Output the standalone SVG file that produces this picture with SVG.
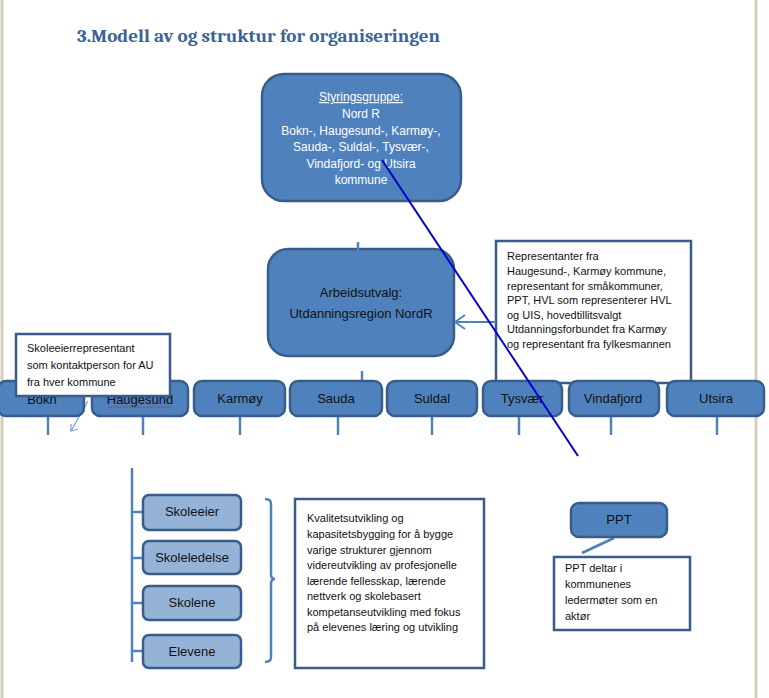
<svg xmlns="http://www.w3.org/2000/svg" width="769" height="698" viewBox="0 0 769 698">
<defs>
<style>
.t{font-family:"Liberation Sans",Arial,sans-serif;}
.bx{fill:#4F81BD;stroke:#385D8A;stroke-width:2.5;}
.lb{fill:#95B3D7;stroke:#385D8A;stroke-width:2.5;}
.wb{fill:#ffffff;stroke:#385D8A;stroke-width:2.5;}
.dk{fill:#111111;font-size:13px;text-anchor:middle;}
.sm{fill:#111111;font-size:11px;}
.wt{fill:#ffffff;font-size:12px;text-anchor:middle;}
.cn{stroke:#4F81BD;stroke-width:2.5;fill:none;}
</style>
</defs>
<rect x="0" y="0" width="769" height="698" fill="#ffffff"/>
<line x1="2" y1="0" x2="2" y2="698" stroke="#D3CEBD" stroke-width="3"/>
<line x1="756" y1="0" x2="756" y2="698" stroke="#D3CEBD" stroke-width="3"/>
<text x="77" y="42" font-family="Cambria,'Liberation Serif',serif" font-weight="bold" font-size="18" fill="#3A6399" textLength="363" lengthAdjust="spacingAndGlyphs">3.Modell av og struktur for organiseringen</text>

<g id="styringsgruppe">
<rect class="bx" x="262" y="74" width="199" height="127" rx="22"/>
<text class="t wt" x="361" y="101" text-decoration="underline" font-size="13">Styringsgruppe:</text>
<text class="t wt" x="361" y="118" font-size="13">Nord R</text>
<text class="t wt" x="361" y="135" font-size="11.5">Bokn-, Haugesund-, Karmøy-,</text>
<text class="t wt" x="361" y="151" font-size="11.5">Sauda-, Suldal-, Tysvær-,</text>
<text class="t wt" x="361" y="168" font-size="11.5">Vindafjord- og Utsira</text>
<text class="t wt" x="361" y="184" font-size="11.5">kommune</text>
</g>

<g id="arbeidsutvalg">
<rect class="bx" x="268" y="249" width="186" height="107" rx="20"/>
<text class="t dk" x="361" y="297" font-size="12.5">Arbeidsutvalg:</text>
<text class="t dk" x="361" y="318" font-size="12.5">Utdanningsregion NordR</text>
</g>

<g id="representanter">
<rect class="wb" x="496" y="241" width="195" height="142"/>
<text class="t sm" x="507" y="260">Representanter fra</text>
<text class="t sm" x="507" y="275">Haugesund-, Karmøy kommune,</text>
<text class="t sm" x="507" y="290">representant for småkommuner,</text>
<text class="t sm" x="507" y="304">PPT, HVL som representerer HVL</text>
<text class="t sm" x="507" y="319">og UIS, hovedtillitsvalgt</text>
<text class="t sm" x="507" y="333">Utdanningsforbundet fra Karmøy</text>
<text class="t sm" x="507" y="348">og representant fra fylkesmannen</text>
</g>

<g id="connectors">
<line class="cn" x1="358" y1="242" x2="358" y2="263"/>
<line class="cn" x1="362" y1="371" x2="362" y2="384"/>
<line x1="496" y1="322" x2="455" y2="322" stroke="#4F81BD" stroke-width="2"/>
<polyline points="465,315 455,322 465,329" fill="none" stroke="#4F81BD" stroke-width="1.8"/>
<line x1="88" y1="401" x2="71" y2="431" stroke="#7B9FD0" stroke-width="1.2"/>
<polyline points="71,424 71,431 78,429" fill="none" stroke="#7B9FD0" stroke-width="1.2"/>
<line class="cn" x1="48" y1="417" x2="48" y2="435"/>
<line class="cn" x1="143" y1="417" x2="143" y2="435"/>
<line class="cn" x1="240" y1="417" x2="240" y2="435"/>
<line class="cn" x1="338" y1="417" x2="338" y2="435"/>
<line class="cn" x1="432" y1="417" x2="432" y2="435"/>
<line class="cn" x1="519" y1="417" x2="519" y2="435"/>
<line class="cn" x1="611" y1="417" x2="611" y2="435"/>
<line class="cn" x1="717" y1="417" x2="717" y2="435"/>
<line class="cn" x1="132" y1="468" x2="132" y2="662" stroke-width="2"/>
<line class="cn" x1="132" y1="512" x2="144" y2="512" stroke-width="2"/>
<line class="cn" x1="132" y1="558" x2="144" y2="558" stroke-width="2"/>
<line class="cn" x1="132" y1="603" x2="144" y2="603" stroke-width="2"/>
<line class="cn" x1="132" y1="651" x2="144" y2="651" stroke-width="2"/>
<path class="cn" stroke-width="1.5" d="M265,499 Q271,499 271,504 L271,574 Q271,579 275,579 Q271,579 271,584 L271,657 Q271,662 265,662"/>
<line x1="614" y1="538" x2="582" y2="553" stroke="#4F81BD" stroke-width="3"/>
</g>

<g id="bokn"><rect class="bx" x="-2" y="381" width="86" height="35" rx="8"/><text class="t dk" x="42" y="404">Bokn</text></g>
<g id="haugesund"><rect class="bx" x="92" y="381" width="96" height="35" rx="8"/><text class="t dk" x="140" y="404">Haugesund</text>
<path d="M108,408 l2,-1.5 l2,1.5 l2,-1.5 l2,1.5 l2,-1.5 l2,1.5 l2,-1.5 l2,1.5 l2,-1.5 l2,1.5 l2,-1.5 l2,1.5 l2,-1.5 l2,1.5 l2,-1.5 l2,1.5 l2,-1.5 l2,1.5 l2,-1.5 l2,1.5 l2,-1.5 l2,1.5 l2,-1.5 l2,1.5 l2,-1.5 l2,1.5 l2,-1.5 l2,1.5 l2,-1.5 l2,1.5 l2,-1.5 l2,1.5" fill="none" stroke="#D03030" stroke-width="0.7"/></g>
<g id="karmoy"><rect class="bx" x="194" y="381" width="91" height="35" rx="8"/><text class="t dk" x="240" y="403">Karmøy</text></g>
<g id="sauda"><rect class="bx" x="290" y="381" width="92" height="35" rx="8"/><text class="t dk" x="336" y="403">Sauda</text></g>
<g id="suldal"><rect class="bx" x="387" y="381" width="90" height="35" rx="8"/><text class="t dk" x="432" y="403">Suldal</text></g>
<g id="tysvaer"><rect class="bx" x="483" y="381" width="79" height="35" rx="8"/><text class="t dk" x="522" y="403">Tysvær</text></g>
<g id="vindafjord"><rect class="bx" x="569" y="381" width="90" height="35" rx="8"/><text class="t dk" x="613" y="403">Vindafjord</text></g>
<g id="utsira"><rect class="bx" x="667" y="381" width="97" height="35" rx="8"/><text class="t dk" x="716" y="403">Utsira</text></g>

<g id="skoleeierrepresentant">
<rect class="wb" x="16" y="334" width="154" height="62" stroke-width="2"/>
<text class="t sm" x="27" y="352">Skoleeierrepresentant</text>
<text class="t sm" x="27" y="369">som kontaktperson for AU</text>
<text class="t sm" x="27" y="386">fra hver kommune</text>
</g>

<g id="diagonal"><line x1="382" y1="160" x2="578" y2="456" stroke="#0000CC" stroke-width="2"/></g>

<g id="skoleeier"><rect class="lb" x="143" y="495" width="98" height="35" rx="6"/><text class="t dk" x="192" y="516" font-size="12">Skoleeier</text></g>
<g id="skoleledelse"><rect class="lb" x="143" y="541" width="98" height="33" rx="6"/><text class="t dk" x="192" y="562" font-size="12">Skoleledelse</text></g>
<g id="skolene"><rect class="lb" x="143" y="586" width="98" height="34" rx="6"/><text class="t dk" x="192" y="607" font-size="12">Skolene</text></g>
<g id="elevene"><rect class="lb" x="143" y="635" width="98" height="33" rx="6"/><text class="t dk" x="192" y="656" font-size="12">Elevene</text></g>

<g id="kvalitet">
<rect class="wb" x="295" y="499" width="189" height="169"/>
<text class="t sm" x="307" y="522">Kvalitetsutvikling og</text>
<text class="t sm" x="307" y="538">kapasitetsbygging for å bygge</text>
<text class="t sm" x="307" y="554">varige strukturer gjennom</text>
<text class="t sm" x="307" y="569">videreutvikling av profesjonelle</text>
<text class="t sm" x="307" y="585">lærende fellesskap, lærende</text>
<text class="t sm" x="307" y="600">nettverk og skolebasert</text>
<text class="t sm" x="307" y="616">kompetanseutvikling med fokus</text>
<text class="t sm" x="307" y="631">på elevenes læring og utvikling</text>
</g>

<g id="ppt"><rect class="bx" x="571" y="503" width="96" height="34" rx="8"/><text class="t dk" x="619" y="524">PPT</text></g>

<g id="ppt-note">
<rect class="wb" x="554" y="557" width="136" height="73"/>
<text class="t sm" x="565" y="572">PPT deltar i</text>
<text class="t sm" x="565" y="588">kommunenes</text>
<text class="t sm" x="565" y="604">ledermøter som en</text>
<text class="t sm" x="565" y="620">aktør</text>
</g>
</svg>
